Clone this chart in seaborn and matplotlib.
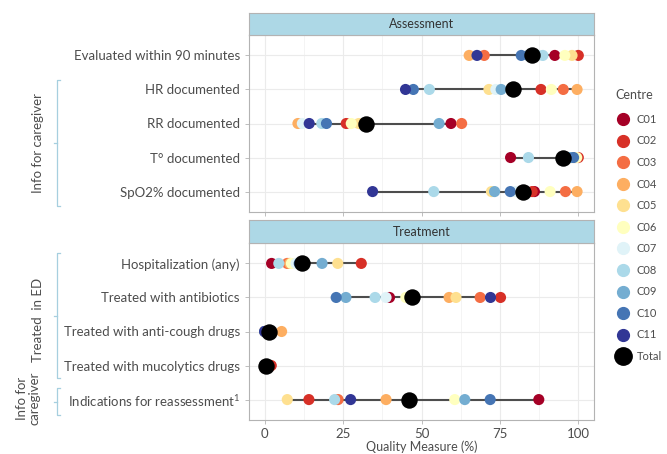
import numpy as np
import pandas as pd
import matplotlib
matplotlib.use('Agg')
import matplotlib.pyplot as plt
from matplotlib.lines import Line2D
import seaborn as sns

# data (percent), centres C01..C11 then Total
centres = ['C01', 'C02', 'C03', 'C04', 'C05', 'C06', 'C07', 'C08', 'C09', 'C10', 'C11']
palette = ['#a50026', '#d73027', '#f46d43', '#fdae61', '#fee090', '#ffffbf',
           '#e0f3f8', '#abd9e9', '#74add1', '#4575b4', '#313695']

assess_labels = ['Evaluated within 90 minutes', 'HR documented', 'RR documented',
                 'T° documented', 'SpO2% documented']
assess_values = [
    [92.5, 100, 70, 65.2, 98, 95.7, 87.5, 88.7, 84, 81.8, 67.7],
    [79, 88.1, 95.2, 99.6, 71.5, 91.4, 73.7, 52.5, 75.4, 47.4, 44.9],
    [59.4, 26, 62.8, 10.6, 30, 27.6, 12, 18.2, 55.6, 19.7, 14.2],
    [78.4, 100, 99, 98, 97, 99.5, 97, 84.1, 97.5, 98.5, 96],
    [86, 85.3, 95.9, 99.6, 72.3, 91, 80, 53.9, 73.3, 78.3, 34.4],
]
assess_total = [85.3, 79.2, 32.4, 95.2, 82.3]

treat_labels = ['Hospitalization (any)', 'Treated with antibiotics',
                'Treated with anti-cough drugs', 'Treated with mucolytics drugs',
                'Indications for reassessment$^{1}$']
treat_values = [
    [2.2, 30.8, 7.2, 8, 23.3, 8.5, 10, 4.5, 18.3, 11, 12],
    [39.8, 75.2, 68.7, 58.8, 61, 45, 38.7, 35.2, 25.9, 22.8, 72],
    [0, 0, 0.5, 5.4, 0, 0, 0, 0.5, 0, 0, 0],
    [0, 2.1, 0, 0, 0, 0, 0, 0, 0, 0, 0],
    [87.4, 14.1, 23.4, 38.7, 7.2, 60.6, 46.5, 22.3, 63.8, 71.9, 27.4],
]
treat_total = [11.9, 47, 1.3, 0.4, 46.1]

W, H = 667, 454
plt.rcParams['font.family'] = ['Lato', 'DejaVu Sans']
plt.rcParams['mathtext.fontset'] = 'custom'
plt.rcParams['mathtext.rm'] = 'Lato'
txt = '#4d4d4d'

fig = plt.figure(figsize=(W / 100, H / 100), dpi=100)


def box(x0, y0, x1, y1):
    return [x0 / W, 1 - y1 / H, (x1 - x0) / W, (y1 - y0) / H]


def fline(xs, ys, **kw):
    fig.add_artist(Line2D([x / W for x in xs], [1 - y / H for y in ys],
                          transform=fig.transFigure, **kw))


def panel(rect, strip_rect, title, labels, values, totals, show_x):
    ax = fig.add_axes(rect)
    rows = []
    for i, lab in enumerate(labels):
        for c, v in zip(centres, values[i]):
            rows.append({'item': i, 'value': v, 'Centre': c})
    df = pd.DataFrame(rows)
    tot = pd.DataFrame({'item': range(len(labels)), 'value': totals})
    allv = pd.concat([df[['item', 'value']], tot])
    rng = allv.groupby('item')['value'].agg(['min', 'max'])
    ax.hlines(rng.index, rng['min'], rng['max'], color='#4d4d4d', lw=1.5, zorder=2)
    sns.scatterplot(data=df, x='value', y='item', hue='Centre', hue_order=centres,
                    palette=palette, s=64, linewidth=0, legend=False, ax=ax, zorder=3)
    sns.scatterplot(data=tot, x='value', y='item', color='black', s=140,
                    linewidth=0, legend=False, ax=ax, zorder=4)
    ax.set_xlim(-5, 105)
    ax.set_ylim(len(labels) - 0.4, -0.6)
    ax.set_yticks(range(len(labels)))
    ax.set_yticklabels(labels, fontsize=9.5, color=txt)
    ax.set_xticks([0, 25, 50, 75, 100])
    ax.set_xticks([12.5, 37.5, 62.5, 87.5], minor=True)
    ax.grid(True, which='major', color='#ebebeb', lw=0.8)
    ax.grid(True, which='minor', axis='x', color='#f2f2f2', lw=0.6)
    ax.set_axisbelow(True)
    ax.tick_params(axis='both', which='major', color='#b3b3b3', length=3, width=0.6)
    ax.tick_params(axis='x', which='minor', length=0)
    ax.set_ylabel('')
    if show_x:
        ax.set_xlabel('Quality Measure (%)', fontsize=9, color=txt, labelpad=0)
        ax.tick_params(axis='x', labelsize=9.5, labelcolor=txt, pad=3)
    else:
        ax.set_xlabel('')
        ax.tick_params(axis='x', labelbottom=False)
    for s in ax.spines.values():
        s.set_color('#b3b3b3')
        s.set_linewidth(0.8)
    sx = fig.add_axes(strip_rect)
    sx.set_facecolor('#add8e6')
    sx.set_xticks([])
    sx.set_yticks([])
    for s in sx.spines.values():
        s.set_color('#b3b3b3')
        s.set_linewidth(0.8)
    sx.text(0.5, 0.5, title, ha='center', va='center', fontsize=9, color='#333333',
            transform=sx.transAxes)
    return ax


panel(box(249, 35, 594, 212), box(249, 13, 594, 35), 'Assessment',
      assess_labels, assess_values, assess_total, False)
panel(box(249, 243, 594, 420), box(249, 220, 594, 243), 'Treatment',
      treat_labels, treat_values, treat_total, True)

# group brackets on the left
bc = '#a6cfdf'


def bracket(y0, y1):
    fline([60, 57, 57, 60], [y0, y0, y1, y1], color=bc, lw=0.9)
    ym = (y0 + y1) / 2
    fline([57, 54], [ym, ym], color=bc, lw=0.9)


bracket(80, 206)
bracket(253, 378)
bracket(388, 415)
fig.text(38 / W, 1 - 143 / H, 'Info for caregiver', rotation=90, ha='center',
         va='center', fontsize=9.5, color=txt)
fig.text(38 / W, 1 - 320 / H, 'Treated  in ED', rotation=90, ha='center',
         va='center', fontsize=9.5, color=txt)
fig.text(28 / W, 1 - 398 / H, 'Info for\ncaregiver', rotation=90, ha='center',
         va='center', fontsize=9.5, color=txt, linespacing=1.1)

# legend
handles = [Line2D([], [], marker='o', ls='', color=c, markersize=8.5) for c in palette]
handles.append(Line2D([], [], marker='o', ls='', color='black', markersize=12.5))
leg = fig.legend(handles, centres + ['Total'], title='Centre', loc='upper left',
                 bbox_to_anchor=(611 / W, 1 - 85 / H), frameon=False, fontsize=8,
                 title_fontsize=9, labelspacing=0.95, handletextpad=0.6,
                 handlelength=1.3, borderaxespad=0)
leg._legend_box.align = 'left'
leg._legend_box.sep = 9
for t in leg.get_texts():
    t.set_color(txt)
leg.get_title().set_color(txt)

fig.savefig('out.png', dpi=100)
